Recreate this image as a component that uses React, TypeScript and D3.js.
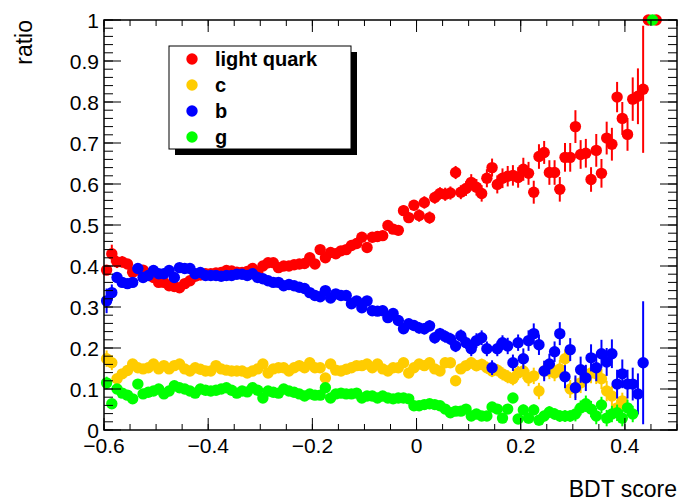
import React from "react";
import * as d3 from "d3";

// ---------- data ----------
const binLow = -0.6;
const binWidth = 0.01;
const nBins = 104;

const lightQuark = [
  0.39, 0.43, 0.41, 0.41, 0.405, 0.385, 0.39, 0.39, 0.38, 0.372,
  0.36, 0.36, 0.352, 0.35, 0.347, 0.357, 0.364, 0.375, 0.378, 0.381,
  0.381, 0.383, 0.384, 0.389, 0.388, 0.385, 0.384, 0.387, 0.394, 0.385,
  0.4, 0.408, 0.408, 0.396, 0.4, 0.4, 0.403, 0.405, 0.406, 0.42,
  0.405, 0.44, 0.42, 0.433, 0.43, 0.437, 0.44, 0.45, 0.455, 0.47,
  0.445, 0.47, 0.472, 0.474, 0.499, 0.49, 0.487, 0.535, 0.518, 0.548,
  0.523, 0.555, 0.518, 0.567, 0.577, 0.575, 0.578, 0.628, 0.58, 0.589,
  0.604, 0.592, 0.577, 0.614, 0.64, 0.599, 0.614, 0.619, 0.621, 0.616,
  0.636, 0.626, 0.58, 0.667, 0.677, 0.628, 0.628, 0.587, 0.665, 0.665,
  0.74, 0.672, 0.675, 0.611, 0.682, 0.626, 0.712, 0.697, 0.812, 0.76,
  0.721, 0.807, 0.814, 0.831,
];
const lightQuarkErr = [
  0.012, 0.022, 0.015, 0.014, 0.012, 0.01, 0.01, 0.01, 0.01, 0.01,
  0.008, 0.008, 0.008, 0.008, 0.008, 0.008, 0.008, 0.008, 0.008, 0.008,
  0.008, 0.008, 0.008, 0.008, 0.008, 0.008, 0.008, 0.008, 0.008, 0.008,
  0.008, 0.008, 0.008, 0.008, 0.008, 0.008, 0.008, 0.008, 0.009, 0.009,
  0.01, 0.01, 0.01, 0.01, 0.01, 0.01, 0.01, 0.01, 0.01, 0.011,
  0.012, 0.012, 0.012, 0.012, 0.012, 0.012, 0.012, 0.013, 0.013, 0.013,
  0.015, 0.015, 0.015, 0.015, 0.015, 0.016, 0.016, 0.016, 0.017, 0.018,
  0.02, 0.02, 0.02, 0.022, 0.022, 0.022, 0.024, 0.025, 0.025, 0.025,
  0.028, 0.028, 0.028, 0.03, 0.028, 0.03, 0.03, 0.03, 0.035, 0.035,
  0.04, 0.035, 0.035, 0.03, 0.04, 0.035, 0.04, 0.04, 0.037, 0.04,
  0.04, 0.053, 0.068, 0.155,
];

const cQuark = [
  0.174, 0.164, 0.125, 0.137, 0.145, 0.161, 0.152, 0.149, 0.152, 0.161,
  0.149, 0.157, 0.149, 0.157, 0.161, 0.149, 0.144, 0.152, 0.148, 0.144,
  0.144, 0.157, 0.149, 0.146, 0.144, 0.144, 0.144, 0.139, 0.144, 0.149,
  0.161, 0.139, 0.149, 0.152, 0.152, 0.144, 0.152, 0.157, 0.152, 0.164,
  0.152, 0.152, 0.127, 0.161, 0.146, 0.144, 0.148, 0.152, 0.157, 0.157,
  0.161, 0.152, 0.161, 0.149, 0.144, 0.152, 0.152, 0.164, 0.139, 0.152,
  0.161, 0.157, 0.164, 0.149, 0.144, 0.164, 0.164, 0.12, 0.149, 0.157,
  0.164, 0.157, 0.16, 0.152, 0.144, 0.146, 0.137, 0.13, 0.125, 0.139,
  0.144, 0.127, 0.132, 0.095, 0.144, 0.144, 0.139, 0.149, 0.174, 0.1,
  0.103, 0.115, 0.132, 0.139, 0.137, 0.125, 0.095, 0.083, 0.054, 0.071,
  null, null, null, null,
];
const cQuarkErr = [
  0.02, 0.018, 0.012, 0.01, 0.01, 0.009, 0.009, 0.009, 0.008, 0.008,
  0.008, 0.008, 0.008, 0.008, 0.008, 0.008, 0.008, 0.008, 0.008, 0.008,
  0.008, 0.008, 0.008, 0.008, 0.008, 0.008, 0.008, 0.008, 0.008, 0.008,
  0.008, 0.008, 0.008, 0.008, 0.008, 0.008, 0.008, 0.008, 0.008, 0.008,
  0.009, 0.009, 0.009, 0.009, 0.009, 0.009, 0.009, 0.009, 0.009, 0.009,
  0.01, 0.01, 0.01, 0.01, 0.01, 0.01, 0.01, 0.01, 0.01, 0.01,
  0.012, 0.012, 0.012, 0.012, 0.012, 0.012, 0.012, 0.012, 0.012, 0.012,
  0.014, 0.014, 0.014, 0.015, 0.015, 0.015, 0.016, 0.016, 0.016, 0.017,
  0.02, 0.02, 0.02, 0.02, 0.02, 0.02, 0.02, 0.022, 0.022, 0.022,
  0.025, 0.025, 0.025, 0.025, 0.025, 0.025, 0.025, 0.025, 0.02, 0.02,
  null, null, null, null,
];

const bQuark = [
  0.315, 0.335, 0.372, 0.36, 0.357, 0.36, 0.394, 0.372, 0.377, 0.389,
  0.381, 0.381, 0.389, 0.372, 0.396, 0.394, 0.394, 0.381, 0.384, 0.377,
  0.377, 0.377, 0.375, 0.377, 0.377, 0.38, 0.38, 0.377, 0.381, 0.372,
  0.369, 0.364, 0.36, 0.36, 0.352, 0.355, 0.352, 0.348, 0.345, 0.335,
  0.328, 0.325, 0.34, 0.322, 0.332, 0.328, 0.328, 0.308, 0.315, 0.298,
  0.315, 0.291, 0.29, 0.291, 0.274, 0.284, 0.267, 0.247, 0.259, 0.255,
  0.249, 0.247, 0.254, 0.225, 0.235, 0.228, 0.222, 0.205, 0.23, 0.213,
  0.198, 0.218, 0.225, 0.198, 0.152, 0.198, 0.213, 0.205, 0.164, 0.213,
  0.174, 0.218, 0.235, 0.208, 0.144, 0.161, 0.191, 0.235, 0.13, 0.196,
  0.103, 0.147, 0.127, 0.176, 0.152, 0.186, 0.166, 0.186, 0.112, 0.137,
  0.112, 0.112, 0.088, 0.164,
];
const bQuarkErr = [
  0.03, 0.02, 0.012, 0.012, 0.012, 0.012, 0.012, 0.012, 0.012, 0.012,
  0.008, 0.008, 0.008, 0.008, 0.008, 0.008, 0.008, 0.008, 0.008, 0.008,
  0.008, 0.008, 0.008, 0.008, 0.008, 0.008, 0.008, 0.008, 0.008, 0.008,
  0.008, 0.008, 0.008, 0.008, 0.008, 0.008, 0.008, 0.008, 0.008, 0.008,
  0.009, 0.009, 0.009, 0.009, 0.009, 0.009, 0.009, 0.009, 0.009, 0.009,
  0.012, 0.012, 0.012, 0.012, 0.012, 0.012, 0.012, 0.012, 0.012, 0.012,
  0.014, 0.014, 0.014, 0.014, 0.014, 0.015, 0.015, 0.015, 0.015, 0.015,
  0.018, 0.018, 0.018, 0.018, 0.018, 0.018, 0.018, 0.02, 0.02, 0.02,
  0.025, 0.025, 0.025, 0.025, 0.025, 0.025, 0.025, 0.028, 0.028, 0.028,
  0.03, 0.032, 0.032, 0.033, 0.033, 0.034, 0.034, 0.035, 0.035, 0.035,
  0.035, 0.04, 0.05, 0.15,
];

const gluon = [
  0.115, 0.064, 0.1, 0.09, 0.085, 0.076, 0.112, 0.088, 0.092, 0.095,
  0.1, 0.088, 0.095, 0.108, 0.103, 0.1, 0.095, 0.09, 0.1, 0.097,
  0.095, 0.097, 0.1, 0.103, 0.097, 0.09, 0.095, 0.093, 0.103, 0.097,
  0.078, 0.095, 0.092, 0.09, 0.1, 0.095, 0.092, 0.088, 0.083, 0.088,
  0.085, 0.085, 0.103, 0.078, 0.088, 0.09, 0.088, 0.088, 0.09, 0.078,
  0.083, 0.083, 0.078, 0.083, 0.078, 0.076, 0.078, 0.078, 0.076, 0.059,
  0.059, 0.062, 0.064, 0.062, 0.059, 0.051, 0.042, 0.046, 0.046, 0.051,
  0.034, 0.039, 0.034, 0.034, 0.056, 0.051, 0.029, 0.051, 0.078, 0.027,
  0.049, 0.029, 0.049, 0.024, 0.034, 0.044, 0.039, 0.034, 0.034, 0.034,
  0.039, 0.054, 0.064, 0.051, 0.034, 0.061, 0.029, 0.039, 0.042, 0.029,
  0.054, 0.039, null, null,
];
const gluonErr = [
  0.015, 0.012, 0.008, 0.008, 0.007, 0.007, 0.007, 0.007, 0.007, 0.007,
  0.006, 0.006, 0.006, 0.006, 0.006, 0.006, 0.006, 0.006, 0.006, 0.006,
  0.006, 0.006, 0.006, 0.006, 0.006, 0.006, 0.006, 0.006, 0.006, 0.006,
  0.006, 0.006, 0.006, 0.006, 0.006, 0.006, 0.006, 0.006, 0.006, 0.006,
  0.007, 0.007, 0.007, 0.007, 0.007, 0.007, 0.007, 0.007, 0.007, 0.007,
  0.008, 0.008, 0.008, 0.008, 0.008, 0.008, 0.008, 0.008, 0.008, 0.008,
  0.009, 0.009, 0.009, 0.009, 0.009, 0.009, 0.009, 0.009, 0.009, 0.009,
  0.011, 0.011, 0.011, 0.011, 0.012, 0.012, 0.012, 0.012, 0.012, 0.012,
  0.013, 0.013, 0.013, 0.013, 0.013, 0.014, 0.014, 0.014, 0.014, 0.014,
  0.018, 0.018, 0.02, 0.02, 0.02, 0.02, 0.02, 0.02, 0.02, 0.02,
  0.02, 0.02, null, null,
];

// bins in which the ratio is exactly 1 (beyond the main range)
const lightQuarkTopX = [0.445, 0.46];
const gluonTopX = [0.453];

const legendLabels = ["light quark", "c", "b", "g"];
const seriesColors = ["#ff0000", "#ffcc00", "#0000ff", "#00ff00"];
const xMajorTicks = [-0.6, -0.4, -0.2, 0, 0.2, 0.4];
const xTickLabels = ["\u22120.6", "\u22120.4", "\u22120.2", "0", "0.2", "0.4"];
const yMajorTicks = [0, 0.1, 0.2, 0.3, 0.4, 0.5, 0.6, 0.7, 0.8, 0.9, 1];
const yTickLabels = ["0", "0.1", "0.2", "0.3", "0.4", "0.5", "0.6", "0.7", "0.8", "0.9", "1"];
const xTitle = "BDT score";
const yTitle = "ratio";

// ---------- layout ----------
const W = 681;
const H = 502;
const left = 104;
const right = 677;
const top = 20;
const bottom = 430;
const font = "'Liberation Sans', Arial, Helvetica, sans-serif";

export default function App() {
  const x = d3.scaleLinear().domain([-0.6, 0.5]).range([left, right]);
  const y = d3.scaleLinear().domain([0, 1]).range([bottom, top]);
  const centers = d3.range(nBins).map((i) => binLow + binWidth * (i + 0.5));

  const xMinor = d3.range(-0.6, 0.5001, 0.05);
  const yMinor = d3.range(0, 1.0001, 0.02);

  const series = [
    { v: lightQuark, e: lightQuarkErr, top: lightQuarkTopX, color: seriesColors[0] },
    { v: cQuark, e: cQuarkErr, top: [] as number[], color: seriesColors[1] },
    { v: bQuark, e: bQuarkErr, top: [] as number[], color: seriesColors[2] },
    { v: gluon, e: gluonErr, top: gluonTopX, color: seriesColors[3] },
  ];
  const R = 5.7;

  return (
    <svg
      width={W}
      height={H}
      style={{ position: "absolute", left: 0, top: 0, background: "#fff" }}
      fontFamily={font}
    >
      <rect x={0} y={0} width={W} height={H} fill="#fff" />
      {/* data */}
      {series.map((s, si) => (
        <g key={si}>
          {s.v.map((val, i) => {
            if (val === null) return null;
            const err = (s.e[i] as number) || 0;
            const cx = x(centers[i]);
            const lo = Math.max(0, val - err);
            const hi = Math.min(1, val + err);
            return (
              <g key={i}>
                <line x1={cx} x2={cx} y1={y(lo)} y2={y(hi)} stroke={s.color} strokeWidth={2} />
                <circle cx={cx} cy={y(val)} r={R} fill={s.color} />
              </g>
            );
          })}
          {s.top.map((tx, i) => (
            <circle key={"t" + i} cx={x(tx)} cy={y(1)} r={R} fill={s.color} />
          ))}
        </g>
      ))}

      {/* frame */}
      <rect x={left} y={top} width={right - left} height={bottom - top} fill="none" stroke="#000" strokeWidth={1.5} />

      {/* x ticks */}
      {xMinor.map((t, i) => (
        <g key={"xm" + i}>
          <line x1={x(t)} x2={x(t)} y1={bottom} y2={bottom - 6} stroke="#000" />
          <line x1={x(t)} x2={x(t)} y1={top} y2={top + 6} stroke="#000" />
        </g>
      ))}
      {xMajorTicks.map((t, i) => (
        <g key={"xM" + i}>
          <line x1={x(t)} x2={x(t)} y1={bottom} y2={bottom - 12} stroke="#000" />
          <line x1={x(t)} x2={x(t)} y1={top} y2={top + 12} stroke="#000" />
          <text x={x(t)} y={453} fontSize={21} textAnchor="middle" fill="#000">
            {xTickLabels[i]}
          </text>
        </g>
      ))}

      {/* y ticks */}
      {yMinor.map((t, i) => (
        <g key={"ym" + i}>
          <line x1={left} x2={left + 9} y1={y(t)} y2={y(t)} stroke="#000" />
          <line x1={right} x2={right - 9} y1={y(t)} y2={y(t)} stroke="#000" />
        </g>
      ))}
      {yMajorTicks.map((t, i) => (
        <g key={"yM" + i}>
          <line x1={left} x2={left + 17} y1={y(t)} y2={y(t)} stroke="#000" />
          <line x1={right} x2={right - 17} y1={y(t)} y2={y(t)} stroke="#000" />
          <text x={99} y={y(t) + 7.5} fontSize={21} textAnchor="end" fill="#000">
            {yTickLabels[i]}
          </text>
        </g>
      ))}

      {/* axis titles */}
      <text x={677} y={497} fontSize={23} textAnchor="end" fill="#000">
        {xTitle}
      </text>
      <text
        transform={`translate(32,20) rotate(-90)`}
        fontSize={23}
        textAnchor="end"
        fill="#000"
      >
        {yTitle}
      </text>

      {/* legend */}
      <rect x={175} y={52} width={182} height={103} fill="#000" />
      <rect x={169} y={46} width={182} height={103} fill="#fff" stroke="#000" strokeWidth={1} />
      {legendLabels.map((lab, i) => {
        const ry = [59, 85, 111, 137][i];
        return (
          <g key={"lg" + i}>
            <circle cx={192} cy={ry} r={R} fill={seriesColors[i]} />
            <text x={215} y={ry + 7} fontSize={20} fontWeight="bold" fill="#000">
              {lab}
            </text>
          </g>
        );
      })}
    </svg>
  );
}
